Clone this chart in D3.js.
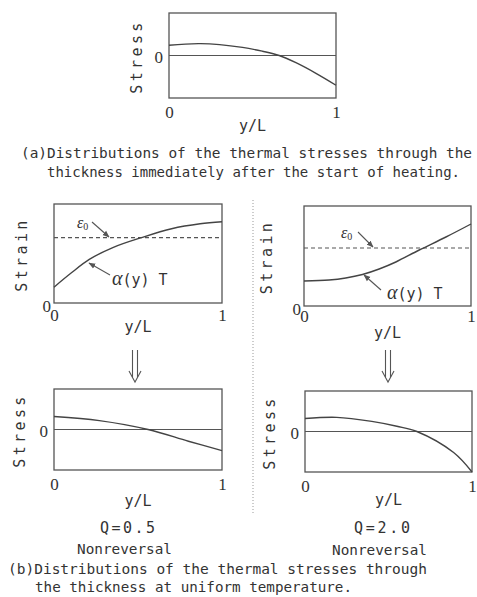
<!DOCTYPE html>
<html>
<head>
<meta charset="utf-8">
<script src="https://cdn.jsdelivr.net/npm/d3@7"></script>
<style>
 body{margin:0;background:#fff;}
</style>
</head>
<body>
<svg id="fig" width="477" height="597"></svg>
<script>
"use strict";

// values (y/L from 0 to 1)
var xTicks = [0, 1];
var stressHeating = [[0,0.24],[0.19,0.28],[0.44,0.19],[0.56,0.10],[0.66,0],[0.76,-0.17],[0.88,-0.42],[1,-0.70]];
var strainQ05 = [[0,0.16],[0.10,0.30],[0.21,0.44],[0.35,0.56],[0.52,0.66],[0.70,0.75],[0.87,0.80],[1,0.82]];
var strainQ20 = [[0,0.25],[0.15,0.26],[0.25,0.28],[0.35,0.315],[0.45,0.37],[0.55,0.44],[0.69,0.56],[0.85,0.69],[1,0.82]];
var eps0Values = [0.66, 0.58];
var stressQ05 = [[0,0.32],[0.27,0.22],[0.56,0],[0.80,-0.29],[1,-0.52]];
var stressQ20 = [[0,0.32],[0.19,0.35],[0.40,0.25],[0.55,0.13],[0.67,0],[0.89,-0.52],[1,-1.0]];
var caseLabels = ["Q=0.5", "Q=2.0"];
var caseNotes = ["Nonreversal", "Nonreversal"];

var MONO = "DejaVu Sans Mono",
    SERIF = "Liberation Serif",
    INK = "#333",
    LINE = "#555";

var svg = d3.select("#fig");

var defs = svg.append("defs");
defs.append("marker")
  .attr("id", "head")
  .attr("viewBox", "0 0 10 10")
  .attr("refX", 9).attr("refY", 5)
  .attr("markerWidth", 7).attr("markerHeight", 7)
  .attr("markerUnits", "userSpaceOnUse")
  .attr("orient", "auto")
  .append("path")
  .attr("d", "M0,1 L10,5 L0,9 Z")
  .attr("fill", LINE);

// layout of the five panels
var panels = [
  {kind:"stress", data:stressHeating, box:[169,336,13,98],  titleX:142, tickDy:20, labelDy:33},
  {kind:"strain", data:strainQ05, eps:eps0Values[0], box:[54,222,204,303], titleX:27, tickDy:18, labelDy:29,
    epsText:[77,228], epsArrow:[[92,222],[109,237]], aText:[112,285], aArrow:[[110,275],[89,263]]},
  {kind:"strain", data:strainQ20, eps:eps0Values[1], box:[304,471,206,306], titleX:272, tickDy:16, labelDy:32,
    epsText:[341,238], epsArrow:[[358,232],[373,247]], aText:[387,299], aArrow:[[381,290],[364,275]]},
  {kind:"stress", data:stressQ05, box:[54,222,389,470], titleX:25, tickDy:20, labelDy:36},
  {kind:"stress", data:stressQ20, box:[305,472,391,472], titleX:275, tickDy:20, labelDy:33}
];

function drawPanel(p){
  var x0 = p.box[0], x1 = p.box[1], top = p.box[2], bottom = p.box[3];
  var x = d3.scaleLinear().domain([0, 1]).range([x0, x1]);
  var y = p.kind === "stress"
    ? d3.scaleLinear().domain([-1, 1]).range([bottom, top])
    : d3.scaleLinear().domain([0, 1]).range([bottom, top]);

  var g = svg.append("g");

  g.append("rect")
    .attr("x", x0).attr("y", top)
    .attr("width", x1 - x0).attr("height", bottom - top)
    .attr("fill", "none").attr("stroke", LINE).attr("stroke-width", 1.3);

  var line = d3.line()
    .x(function(d){ return x(d[0]); })
    .y(function(d){ return y(d[1]); })
    .curve(d3.curveCatmullRom.alpha(0.5));

  if(p.kind === "stress"){
    g.append("line")
      .attr("x1", x0).attr("x2", x1)
      .attr("y1", y(0)).attr("y2", y(0))
      .attr("stroke", LINE).attr("stroke-width", 1.2);
  } else {
    g.append("line")
      .attr("x1", x0).attr("x2", x1)
      .attr("y1", y(p.eps)).attr("y2", y(p.eps))
      .attr("stroke", LINE).attr("stroke-width", 1.2)
      .attr("stroke-dasharray", "4,3");
  }

  g.append("path")
    .datum(p.data)
    .attr("d", line)
    .attr("fill", "none").attr("stroke", "#444").attr("stroke-width", 1.4);

  // x ticks 0 and 1
  var xAxis = g.append("g")
    .attr("transform", "translate(0," + (bottom + p.tickDy) + ")")
    .call(d3.axisBottom(x).tickValues(xTicks).tickSize(0).tickPadding(0).tickFormat(d3.format("d")));
  xAxis.select(".domain").remove();
  xAxis.selectAll("text")
    .attr("dy", null)
    .attr("font-family", SERIF).attr("font-size", 17).attr("fill", INK);

  // "0" on the vertical axis
  var yAxis = g.append("g")
    .attr("transform", "translate(" + (x0 - (p.kind === "stress" ? 6 : 3)) + "," + (p.kind === "stress" ? 7 : 8) + ")")
    .call(d3.axisLeft(y).tickValues([0]).tickSize(0).tickPadding(0).tickFormat(d3.format("d")));
  yAxis.select(".domain").remove();
  yAxis.selectAll("text")
    .attr("dy", null)
    .attr("font-family", SERIF).attr("font-size", 17).attr("fill", INK);

  g.append("text")
    .attr("transform", "translate(" + p.titleX + "," + ((top + bottom) / 2 + 1) + ") rotate(-90)")
    .attr("text-anchor", "middle")
    .attr("font-family", MONO).attr("font-size", 15)
    .attr("letter-spacing", 3.4)
    .attr("fill", INK)
    .text(p.kind === "stress" ? "Stress" : "Strain");

  g.append("text")
    .attr("x", (x0 + x1) / 2).attr("y", bottom + p.labelDy)
    .attr("text-anchor", "middle")
    .attr("font-family", MONO).attr("font-size", 15)
    .attr("fill", INK)
    .text("y/L");

  if(p.kind === "strain"){
    var e = g.append("text")
      .attr("x", p.epsText[0]).attr("y", p.epsText[1])
      .attr("font-family", SERIF).attr("font-size", 16)
      .attr("font-style", "italic").attr("fill", INK);
    e.append("tspan").text("ε");
    e.append("tspan").attr("font-size", 10).attr("dy", 2).attr("font-style", "normal").text("0");

    g.append("line")
      .attr("x1", p.epsArrow[0][0]).attr("y1", p.epsArrow[0][1])
      .attr("x2", p.epsArrow[1][0]).attr("y2", p.epsArrow[1][1])
      .attr("stroke", LINE).attr("stroke-width", 1.1)
      .attr("marker-end", "url(#head)");

    var a = g.append("text")
      .attr("x", p.aText[0]).attr("y", p.aText[1])
      .attr("font-family", MONO).attr("font-size", 15).attr("fill", INK);
    a.append("tspan").attr("font-family", SERIF).attr("font-style", "italic").attr("font-size", 20).text("α");
    a.append("tspan").text("(y) T");

    g.append("line")
      .attr("x1", p.aArrow[0][0]).attr("y1", p.aArrow[0][1])
      .attr("x2", p.aArrow[1][0]).attr("y2", p.aArrow[1][1])
      .attr("stroke", LINE).attr("stroke-width", 1.1)
      .attr("marker-end", "url(#head)");
  }
}

panels.forEach(drawPanel);

// hollow double arrows between strain and stress panels
[135, 388].forEach(function(cx){
  var g = svg.append("g").attr("fill", "none").attr("stroke", LINE).attr("stroke-width", 1.1);
  g.append("path").attr("d", "M" + (cx - 2.5) + ",350 V377 M" + (cx + 2.5) + ",350 V377");
  g.append("path").attr("d", "M" + (cx - 6) + ",371 L" + cx + ",382 L" + (cx + 6) + ",371");
});

// dotted divider
svg.append("line")
  .attr("x1", 253).attr("x2", 253).attr("y1", 200).attr("y2", 515)
  .attr("stroke", "#999").attr("stroke-width", 1)
  .attr("stroke-dasharray", "1,2");

// captions
var captions = [
  {t:"(a)Distributions of the thermal stresses through the", x:21, y:158, w:451, s:14.2, adj:"spacingAndGlyphs"},
  {t:"thickness immediately after the start of heating.", x:47, y:177, w:413, s:14.2, adj:"spacingAndGlyphs"},
  {t:caseLabels[0], x:100, y:533, w:55, s:15, adj:"spacing"},
  {t:caseLabels[1], x:354, y:533, w:56, s:15, adj:"spacing"},
  {t:caseNotes[0], x:77, y:554, w:95, s:14, adj:"spacingAndGlyphs"},
  {t:caseNotes[1], x:332, y:555, w:95, s:14, adj:"spacingAndGlyphs"},
  {t:"(b)Distributions of the thermal stresses through", x:8, y:574, w:419, s:14.2, adj:"spacingAndGlyphs"},
  {t:"the thickness at uniform temperature.", x:35, y:592, w:317, s:14.2, adj:"spacingAndGlyphs"}
];

svg.selectAll(".caption")
  .data(captions)
  .enter()
  .append("text")
  .attr("class", "caption")
  .attr("x", function(d){ return d.x; })
  .attr("y", function(d){ return d.y; })
  .attr("textLength", function(d){ return d.w; })
  .attr("lengthAdjust", function(d){ return d.adj; })
  .attr("font-family", MONO)
  .attr("font-size", function(d){ return d.s; })
  .attr("fill", INK)
  .text(function(d){ return d.t; });
</script>
</body>
</html>
